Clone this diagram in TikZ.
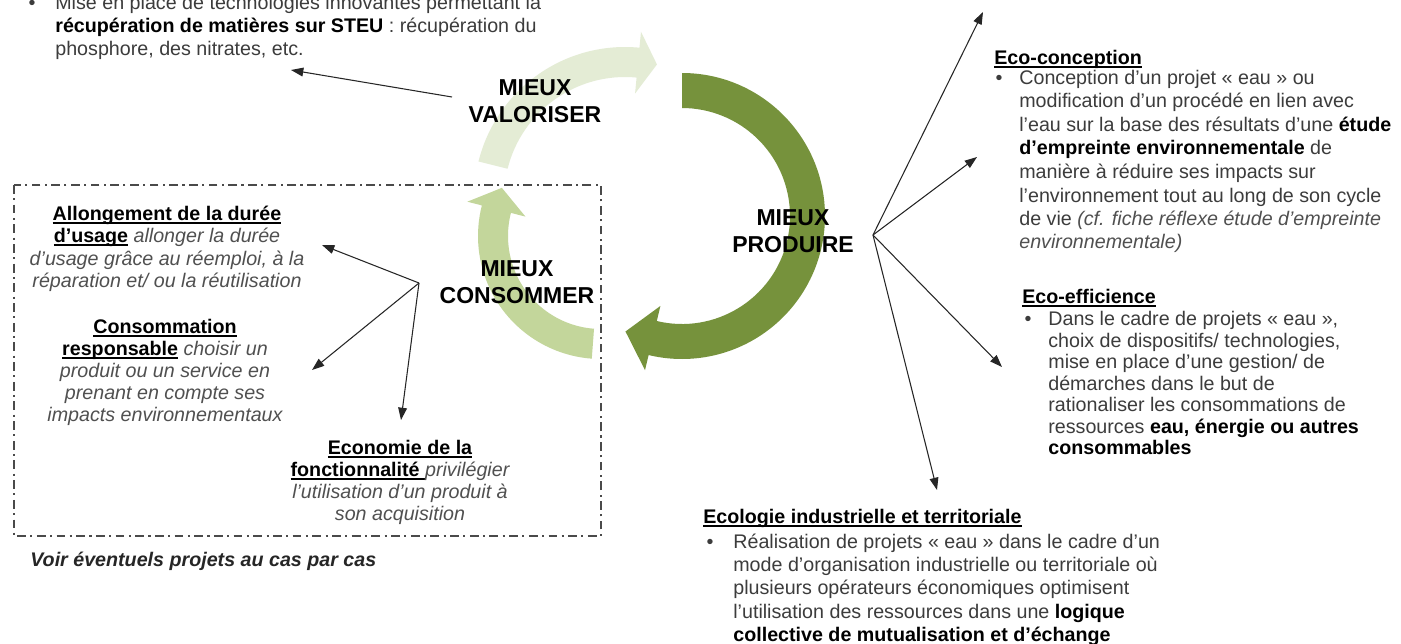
\documentclass[tikz,border=0pt]{standalone}
\usepackage{fontspec}
\setmainfont{Liberation Sans}
\usetikzlibrary{arrows.meta}

\definecolor{prodgreen}{HTML}{76923C}
\definecolor{consgreen}{HTML}{C3D69B}
\definecolor{valgreen}{HTML}{E4ECD5}
\definecolor{bodygray}{HTML}{3C3C3C}
\definecolor{itgray}{HTML}{505050}
\definecolor{framegray}{HTML}{4A4A4A}

% curved band arrow: centre x, centre y (downwards), mid radius, band width,
% start angle, end angle (clockwise), head length, head half width, colour
\newcommand\bandarrow[9]{%
  \fill[#9, shift={(#1,-#2)}]
    ({#5}:{#3+#4/2}) arc[start angle=#5, end angle=#6, radius={#3+#4/2}]
    -- ({#6}:{#3+#8})
    -- ({#6-atan(#7/#3)}:{#3*sqrt(1+(#7/#3)^2)})
    -- ({#6}:{#3-#8})
    -- ({#6}:{#3-#4/2}) arc[start angle=#6, end angle=#5, radius={#3-#4/2}]
    -- cycle;}

% underlined text with a rule just below the baseline
\newcommand\ulinetext[1]{\setbox0\hbox{#1}\rlap{\vrule width\wd0 height -1.3pt depth 2.0pt}\box0}
\newcommand\hd[1]{\textbf{\color{black}\ulinetext{#1}}}
\newcommand\bd[1]{\textbf{\color{black}#1}}
\newcommand\itx[1]{\textit{\color{itgray}#1}}

\tikzset{
  body/.style={inner sep=0pt, font=\fontsize{11.2}{13}\selectfont, text=bodygray},
  lbase/.style={body, anchor=base west},
  cbase/.style={body, anchor=base},
  cyclelabel/.style={font=\fontsize{13.1}{15.4}\selectfont\bfseries, align=center,
    inner sep=0pt, text=black},
  pointer/.style={-{Triangle[length=7pt,width=5pt]}, line width=0.6pt, black!85},
  frame/.style={draw=framegray, line width=1.1pt,
    dash pattern=on 5pt off 2.5pt on 1.2pt off 2.5pt},
}

\begin{document}
\begin{tikzpicture}[x=0.02cm,y=0.02cm]
\useasboundingbox (0,0) rectangle (1401,-643);
\fill[white] (0,0) rectangle (1401,-643);

% the cycle
\bandarrow{625}{198}{136}{30}{166}{84.5}{19}{31}{valgreen}
\bandarrow{601}{236}{108}{30}{265.7}{165.6}{22}{30}{consgreen}
\bandarrow{682}{216}{125.5}{35}{90}{-103.5}{28}{33}{prodgreen}

\node[cyclelabel] (valo) at (535,-101) {MIEUX\\VALORISER};
\node[cyclelabel] (prod) at (793,-231) {MIEUX\\PRODUIRE};
\node[cyclelabel] (cons) at (517,-282) {MIEUX\\CONSOMMER};

% dashed frame around the consumption block
\draw[frame] (14,-185) rectangle (601,-536);

% upper left: recovery
\node[cbase] (tlb) at (32,-9) {•};
\node[lbase] (tl1) at (55,-9) {Mise en place de technologies innovantes permettant la};
\node[lbase] (tl2) at (55,-32) {\bd{récupération de matières sur STEU} : récupération du};
\node[lbase] (tl3) at (55,-55) {phosphore, des nitrates, etc.};

% consumption block
\node[cbase] (a1) at (167,-220) {\hd{Allongement de la durée}};
\node[cbase] (a2) at (167,-242) {\hd{d’usage} \itx{allonger la durée}};
\node[cbase] (a3) at (167,-265) {\itx{d’usage grâce au réemploi, à la}};
\node[cbase] (a4) at (167,-287) {\itx{réparation et/ ou la réutilisation}};

\node[cbase] (b1) at (165,-333) {\hd{Consommation}};
\node[cbase] (b2) at (165,-355) {\hd{responsable} \itx{choisir un}};
\node[cbase] (b3) at (165,-377) {\itx{produit ou un service en}};
\node[cbase] (b4) at (165,-399) {\itx{prenant en compte ses}};
\node[cbase] (b5) at (165,-421) {\itx{impacts environnementaux}};

\node[cbase] (c1) at (400,-454) {\hd{Economie de la}};
\node[cbase] (c2) at (400,-476) {\hd{fonctionnalité }\itx{privilégier}};
\node[cbase] (c3) at (400,-498) {\itx{l’utilisation d’un produit à}};
\node[cbase] (c4) at (400,-520) {\itx{son acquisition}};

\node[lbase, text=black!85] (voir) at (30,-566) {\textbf{\textit{Voir éventuels projets au cas par cas}}};

% production: eco-design
\node[lbase] (e0) at (994,-64) {\hd{Eco-conception}};
\node[cbase] (eb) at (999,-84) {•};
\node[lbase] (e1) at (1019,-84) {Conception d’un projet « eau » ou};
\node[lbase] (e2) at (1019,-107.5) {modification d’un procédé en lien avec};
\node[lbase] (e3) at (1019,-131) {l’eau sur la base des résultats d’une \bd{étude}};
\node[lbase] (e4) at (1019,-154) {\bd{d’empreinte environnementale} de};
\node[lbase] (e5) at (1019,-178) {manière à réduire ses impacts sur};
\node[lbase] (e6) at (1019,-202) {l’environnement tout au long de son cycle};
\node[lbase] (e7) at (1019,-225.5) {de vie \itx{(cf. fiche réflexe étude d’empreinte}};
\node[lbase] (e8) at (1019,-248) {\itx{environnementale)}};

% production: eco-efficiency
\node[lbase] (f0) at (1022,-303) {\hd{Eco-efficience}};
\node[cbase] (fb) at (1028,-325) {•};
\node[lbase] (f1) at (1048,-325) {Dans le cadre de projets « eau »,};
\node[lbase] (f2) at (1048,-347) {choix de dispositifs/ technologies,};
\node[lbase] (f3) at (1048,-368.5) {mise en place d’une gestion/ de};
\node[lbase] (f4) at (1048,-390) {démarches dans le but de};
\node[lbase] (f5) at (1048,-411.5) {rationaliser les consommations de};
\node[lbase] (f6) at (1048,-433) {ressources \bd{eau, énergie ou autres}};
\node[lbase] (f7) at (1048,-454.5) {\bd{consommables}};

% production: industrial ecology
\node[lbase] (g0) at (703,-523) {\hd{Ecologie industrielle et territoriale}};
\node[cbase] (gb) at (710,-548) {•};
\node[lbase] (g1) at (733,-548) {Réalisation de projets « eau » dans le cadre d’un};
\node[lbase] (g2) at (733,-571) {mode d’organisation industrielle ou territoriale où};
\node[lbase] (g3) at (733,-594) {plusieurs opérateurs économiques optimisent};
\node[lbase] (g4) at (733,-618) {l’utilisation des ressources dans une \bd{logique}};
\node[lbase] (g5) at (733,-641) {\bd{collective de mutualisation et d’échange}};

% connectors
\coordinate (valTail) at (452,-97);
\coordinate (valTip) at (291,-70);
\coordinate (hubL) at (419,-283);
\coordinate (tA) at (322,-245);
\coordinate (tB) at (312,-370);
\coordinate (tC) at (401,-420);
\coordinate (hubR) at (873,-235);
\coordinate (tTop) at (983,-12);
\coordinate (tE) at (977,-157);
\coordinate (tF) at (1002,-367);
\coordinate (tG) at (937,-490);

\draw[pointer] (valTail) -- (valTip);
\draw[pointer] (hubL) -- (tA);
\draw[pointer] (hubL) -- (tB);
\draw[pointer] (hubL) -- (tC);
\draw[pointer] (hubR) -- (tTop);
\draw[pointer] (hubR) -- (tE);
\draw[pointer] (hubR) -- (tF);
\draw[pointer] (hubR) -- (tG);
\end{tikzpicture}
\end{document}
